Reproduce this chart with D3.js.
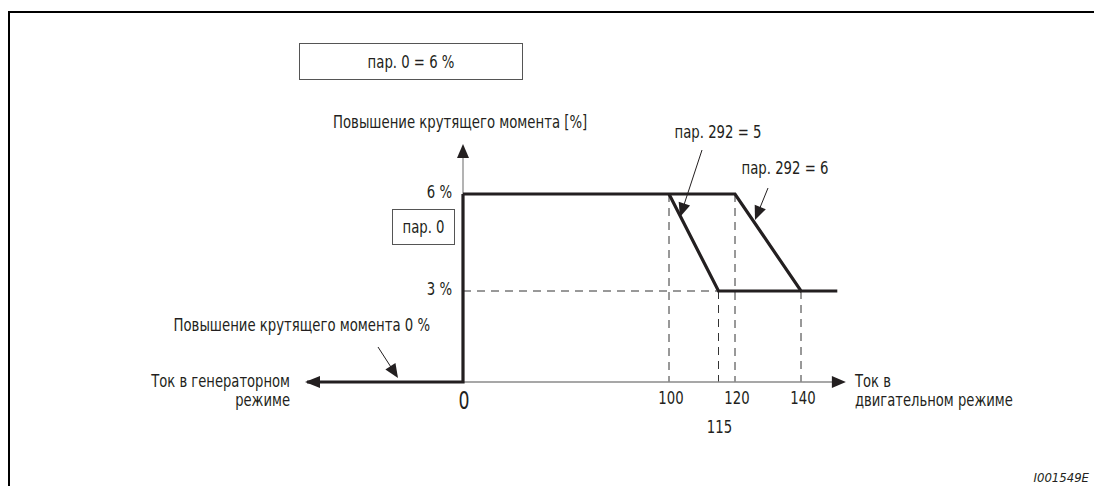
<!DOCTYPE html>
<html>
<head>
<meta charset="utf-8">
<script src="https://cdn.jsdelivr.net/npm/d3@7"></script>
<style>
  html, body { margin: 0; padding: 0; background: #fff; }
  svg { display: block; }
  text { font-family: "Liberation Sans Narrow", "DejaVu Sans Condensed", "Liberation Sans", sans-serif; fill: #231f20; }
</style>
</head>
<body>
<svg id="chart" width="1094" height="486"></svg>
<script>
// Torque boost versus motor current (schematic)
const xTickValues = [100, 120, 140];
const xTickLow = [115];
const yTickValues = [3, 6];
const yTickLabels = ["3 %", "6 %"];

// generator side: 0 % boost, then jump to 6 % at zero current
const generatorPath = [[-75, 0], [0, 0], [0, 6]];
// Pr. 292 = 6 : full boost up to 120 %, reduced to 3 % at 140 %
const boost292_6 = [[0, 6], [120, 6], [140, 3], [151, 3]];
// Pr. 292 = 5 : full boost up to 100 %, reduced to 3 % at 115 %
const boost292_5 = [[100, 6], [115, 3], [140, 3]];

const svg = d3.select("#chart");
const ink = "#231f20";
const FS = 18;          // label font size
const SQUEEZE = 0.82;   // horizontal condensing of label glyphs

// piecewise scales (axis is drawn not to scale)
const x = d3.scaleLinear().domain([-75, 0, 100, 140]).range([307, 463, 669, 801]);
const y = d3.scaleLinear().domain([0, 3, 6]).range([382, 291, 194]);

// condensed text helper (one text element per line)
function label(xx, yy, str, anchor, opts = {}) {
  const lines = Array.isArray(str) ? str : [str];
  lines.forEach((s, i) => {
    svg.append("g")
      .attr("transform", `translate(${xx},${yy + i * (opts.lh || 18)}) scale(${opts.squeeze || SQUEEZE},1)`)
      .append("text").attr("x", 0).attr("y", 0)
      .attr("text-anchor", anchor || "start")
      .attr("dominant-baseline", "central")
      .attr("font-size", opts.size || FS)
      .text(s);
  });
}

// outer frame (top and left edges)
svg.append("path")
  .attr("d", "M9,486 L9,12 L1094,12")
  .attr("fill", "none").attr("stroke", "#000").attr("stroke-width", 2);

// labelled boxes
function box(x0, y0, w, h, text) {
  svg.append("rect").attr("x", x0).attr("y", y0).attr("width", w).attr("height", h)
    .attr("fill", "#fff").attr("stroke", "#555").attr("stroke-width", 1);
  label(x0 + w / 2, y0 + h / 2, text, "middle");
}
box(299.5, 43.5, 223, 36, "пар. 0 = 6 %");

const line = d3.line().x(d => x(d[0])).y(d => y(d[1]));

// dashed guide lines
const dash = svg.append("g").attr("stroke", "#333").attr("stroke-width", 1)
  .attr("stroke-dasharray", "8,6").attr("fill", "none");
dash.append("path").attr("d", line([[0, 3], [115, 3]]));
[[100, 6], [120, 6], [115, 3], [140, 3]].forEach(p => {
  dash.append("path").attr("d", line([[p[0], p[1]], [p[0], 0]]));
});

// thin axes
const axisColor = "#8a8a8a";
svg.append("path").attr("d", line([[0, 0], [0, 7.35]]))
  .attr("stroke", axisColor).attr("stroke-width", 1.3).attr("fill", "none");
svg.append("path").attr("d", line([[0, 0], [152.3, 0]]))
  .attr("stroke", axisColor).attr("stroke-width", 1.3).attr("fill", "none");

// arrowheads
function arrowHead(tx, ty, angleDeg, len, half, color) {
  const a = angleDeg * Math.PI / 180;
  const bx = tx - len * Math.cos(a), by = ty - len * Math.sin(a);
  const px = -Math.sin(a) * half, py = Math.cos(a) * half;
  svg.append("path")
    .attr("d", `M${tx},${ty} L${bx + px},${by + py} L${bx - px},${by - py} Z`)
    .attr("fill", color);
}
arrowHead(x(0), y(7.55), -90, 14, 6, ink);
arrowHead(x(153.6), y(0), 0, 14, 6, ink);

// characteristic curves (thick)
[generatorPath, boost292_6, boost292_5].forEach(pts => {
  svg.append("path").attr("d", line(pts))
    .attr("fill", "none").attr("stroke", ink).attr("stroke-width", 3.2)
    .attr("stroke-linejoin", "miter");
});
arrowHead(x(-75) - 2, y(0), 180, 15, 6, ink);

// y tick labels
yTickValues.forEach((v, i) => label(452, y(v) - 2, yTickLabels[i], "end"));
box(392.5, 209.5, 62, 35, "пар. 0");

// x tick labels
xTickValues.forEach(v => label(x(v) + 2, 398, String(v), "middle"));
xTickLow.forEach(v => label(x(v) + 1, 427, String(v), "middle"));
svg.append("g").attr("transform", `translate(${x(0) + 1},401) scale(0.8,1)`)
  .append("text").attr("text-anchor", "middle").attr("dominant-baseline", "central")
  .attr("font-size", 24).attr("font-family", "'DejaVu Sans', sans-serif")
  .attr("font-weight", 200).text("0");

// axis titles
label(333, 122, "Повышение крутящего момента [%]", "start");
const twoLine = { size: 17, squeeze: 0.86, lh: 19 };
label(290, 381, ["Ток в генераторном", "режиме"], "end", twoLine);
label(855, 381, ["Ток в", "двигательном режиме"], "start", twoLine);

// annotations with pointer arrows
function pointer(x1, y1, x2, y2) {
  const ang = Math.atan2(y2 - y1, x2 - x1) * 180 / Math.PI;
  const a = ang * Math.PI / 180;
  svg.append("line").attr("x1", x1).attr("y1", y1)
    .attr("x2", x2 - 10 * Math.cos(a)).attr("y2", y2 - 10 * Math.sin(a))
    .attr("stroke", ink).attr("stroke-width", 1);
  arrowHead(x2, y2, ang, 14, 6, ink);
}
label(430, 325, "Повышение крутящего момента 0 %", "end");
pointer(378, 347, 398, 378);

label(718, 132, "пар. 292 = 5", "middle");
pointer(702, 150, 680, 217);

label(785, 168, "пар. 292 = 6", "middle");
pointer(768, 188, 755, 220);

// figure id
svg.append("text").attr("x", 1089).attr("y", 477)
  .attr("text-anchor", "end").attr("dominant-baseline", "central")
  .attr("font-family", "'Liberation Sans', Arial, sans-serif")
  .attr("font-style", "italic").attr("font-size", 13).attr("fill", "#333")
  .text("I001549E");
</script>
</body>
</html>
